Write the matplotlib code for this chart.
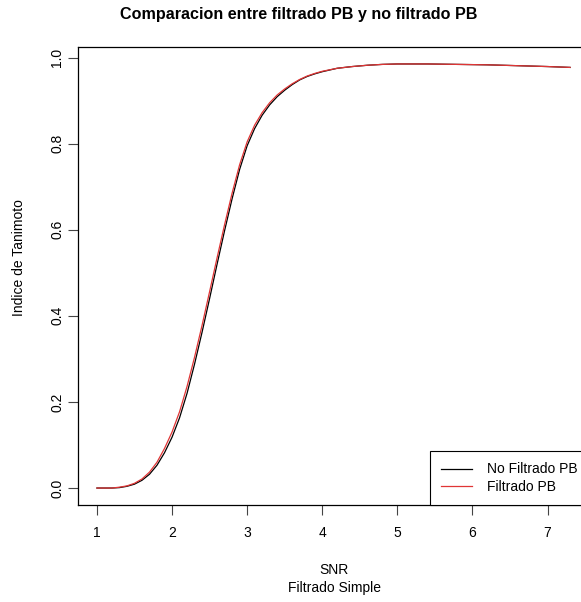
import matplotlib.pyplot as plt

plt.rcParams['font.family'] = ['Liberation Sans', 'DejaVu Sans']

snr = [1.0, 1.1, 1.2, 1.3, 1.4, 1.5, 1.6, 1.7, 1.8, 1.9,
       2.0, 2.1, 2.2, 2.3, 2.4, 2.5, 2.6, 2.7, 2.8, 2.9,
       3.0, 3.1, 3.2, 3.3, 3.4, 3.5, 3.6, 3.7, 3.8, 3.9,
       4.0, 4.2, 4.4, 4.6, 4.8, 5.0, 5.4, 5.8, 6.2, 6.6, 7.0, 7.3]

no_filtrado = [0.000, 0.000, 0.000, 0.001, 0.004, 0.009, 0.018, 0.032, 0.053, 0.082,
               0.118, 0.163, 0.220, 0.288, 0.362, 0.440, 0.520, 0.598, 0.672, 0.740,
               0.795, 0.835, 0.866, 0.890, 0.909, 0.924, 0.937, 0.948, 0.956, 0.962,
               0.967, 0.975, 0.979, 0.982, 0.984, 0.985, 0.985, 0.984, 0.983, 0.981, 0.979, 0.977]

filtrado_pb = [0.000, 0.000, 0.000, 0.002, 0.005, 0.011, 0.021, 0.037, 0.060, 0.092,
               0.130, 0.177, 0.236, 0.304, 0.378, 0.456, 0.535, 0.612, 0.685, 0.751,
               0.804, 0.843, 0.872, 0.895, 0.913, 0.927, 0.939, 0.949, 0.957, 0.963,
               0.968, 0.975, 0.979, 0.982, 0.984, 0.985, 0.985, 0.984, 0.983, 0.981, 0.979, 0.977]

W, H = 581, 602
fig = plt.figure(figsize=(W / 100, H / 100), dpi=100)
left, right, top, bottom = 78, 589, 47, 505
ax = fig.add_axes([left / W, 1 - bottom / H, (right - left) / W, (bottom - top) / H])

ax.plot(snr, no_filtrado, color='black', lw=0.9, label='No Filtrado PB')
ax.plot(snr, filtrado_pb, color='#e03535', lw=0.9, label='Filtrado PB')

# R-style 4% padding around the data range
xr = max(snr) - min(snr)
ax.set_xlim(min(snr) - 0.04 * xr, max(snr) + 0.04 * xr)
ymin = min(no_filtrado + filtrado_pb)
ymax = max(no_filtrado + filtrado_pb)
yr = ymax - ymin
ax.set_ylim(ymin - 0.04 * yr, ymax + 0.04 * yr)

ax.set_xticks(range(1, 8))
ax.set_yticks([0.0, 0.2, 0.4, 0.6, 0.8, 1.0])
ax.set_yticklabels(['0.0', '0.2', '0.4', '0.6', '0.8', '1.0'],
                   rotation=90, va='center')
ax.tick_params(axis='both', length=7, width=0.8, labelsize=10, color='#444444')
ax.tick_params(axis='x', pad=8)
ax.tick_params(axis='y', pad=3)
for s in ax.spines.values():
    s.set_linewidth(0.9)

leg = ax.legend(loc='lower right', bbox_to_anchor=(1, 0), borderaxespad=0,
                fancybox=False, edgecolor='black', framealpha=1, fontsize=10,
                borderpad=0.8, handlelength=2.2, handletextpad=1.1, labelspacing=0.25)
leg.get_frame().set_linewidth(0.8)

fig.text(299 / W, 1 - 14 / H, 'Comparacion entre filtrado PB y no filtrado PB',
         ha='center', va='center', fontsize=11.6, fontweight='bold')
fig.text(334 / W, 1 - 570 / H, 'SNR', ha='center', va='center', fontsize=10)
fig.text(334 / W, 1 - 588 / H, 'Filtrado Simple', ha='center', va='center', fontsize=10)
fig.text(19 / W, 1 - 258 / H, 'Indice de Tanimoto', ha='center', va='center',
         rotation=90, fontsize=10)

fig.savefig('out.png', dpi=100)
